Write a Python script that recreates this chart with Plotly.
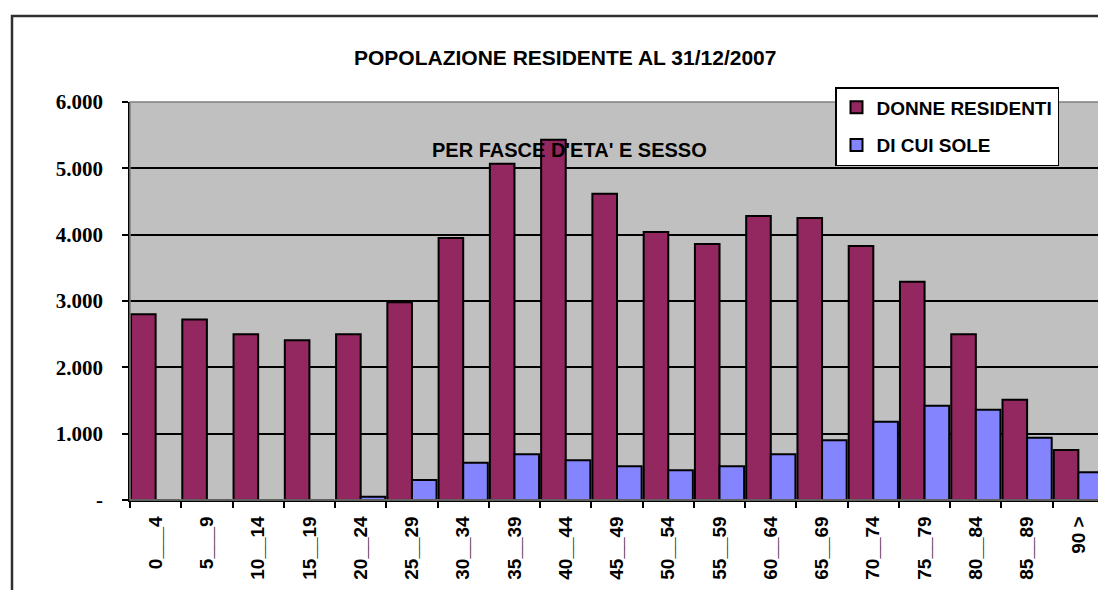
import plotly.graph_objects as go

categories = ["0___4", "5___9", "10__14", "15__19", "20__24", "25__29", "30__34",
              "35__39", "40__44", "45__49", "50__54", "55__59", "60__64", "65__69",
              "70__74", "75__79", "80__84", "85__89", "90 >"]
donne_residenti = [2800, 2720, 2500, 2410, 2500, 2980, 3950, 5070, 5430, 4615,
                   4040, 3860, 4280, 4250, 3830, 3290, 2500, 1510, 755]
di_cui_sole = [0, 0, 0, 0, 50, 300, 560, 690, 600, 510, 450, 510, 690, 900,
               1180, 1420, 1360, 940, 420]
y_ticks = [0, 1000, 2000, 3000, 4000, 5000, 6000]
y_tick_labels = ["-", "1.000", "2.000", "3.000", "4.000", "5.000", "6.000"]

SANS = "Liberation Sans, Arial, sans-serif"
SERIF = "Liberation Serif, Times New Roman, serif"

# page has an 8px body margin; work in page pixels and convert
OFF = 8
W, H = 1106 - OFF, 590 - OFF
PL, PR, PT, PB = 130 - OFF, 1104 - OFF, 102 - OFF, 500 - OFF
PW, PH = PR - PL, PB - PT


def px(xp):
    return (xp - OFF - PL) / PW


def py(yp):
    return (PB - (yp - OFF)) / PH


fig = go.Figure()
fig.add_trace(go.Bar(x=categories, y=donne_residenti, name="<b>DONNE RESIDENTI</b>",
                     legendgroup="a",
                     marker=dict(color="#93275F", line=dict(color="black", width=2))))
fig.add_trace(go.Bar(x=categories, y=di_cui_sole, name="<b>DI CUI SOLE</b>",
                     legendgroup="b",
                     marker=dict(color="#8484FF", line=dict(color="black", width=2))))

fig.update_layout(
    width=W, height=H,
    margin=dict(l=PL, r=W - PR, t=PT, b=H - PB),
    paper_bgcolor="white",
    plot_bgcolor="#C0C0C0",
    barmode="group",
    bargap=0.04,
    bargroupgap=0.0,
    showlegend=True,
    legend=dict(
        x=px(835), y=py(87), xanchor="left", yanchor="top",
        bgcolor="white", bordercolor="black", borderwidth=1.5,
        font=dict(family=SANS, size=19, color="black"),
        traceorder="grouped",
        tracegroupgap=10,
        itemwidth=30,
    ),
    xaxis=dict(
        type="category",
        tickangle=-90,
        tickson="boundaries",
        tickvals=categories,
        ticktext=["<b>" + c + "</b>" for c in categories],
        ticks="outside", ticklen=6, tickcolor="black", tickwidth=1.5,
        showline=True, linecolor="black", linewidth=1.5,
        showgrid=False,
        tickfont=dict(family=SANS, size=19, color="black"),
        ticklabelstandoff=7,
    ),
    yaxis=dict(
        range=[0, 6000],
        tickvals=y_ticks, ticktext=["<b>" + t + "</b>" for t in y_tick_labels],
        ticks="outside", ticklen=6, tickcolor="black", tickwidth=1.5,
        showline=True, linecolor="black", linewidth=1.5,
        showgrid=True, gridcolor="black", gridwidth=1.5,
        zeroline=False,
        tickfont=dict(family=SERIF, size=21, color="black"),
        ticklabelstandoff=15,
    ),
    annotations=[
        dict(text="<b>POPOLAZIONE RESIDENTE AL 31/12/2007</b>", xref="paper", yref="paper",
             x=px(565), y=py(58), xanchor="center", yanchor="middle",
             showarrow=False, font=dict(family=SANS, size=21, color="black")),
        dict(text="<b>PER FASCE D'ETA' E SESSO</b>", xref="paper", yref="paper",
             x=px(569), y=py(150), xanchor="center", yanchor="middle",
             showarrow=False, font=dict(family=SANS, size=20, color="black")),
    ],
    shapes=[
        dict(type="rect", xref="paper", yref="paper", x0=0, x1=1, y0=0, y1=1,
             line=dict(color="#808080", width=1.5), layer="above"),
        dict(type="rect", xref="paper", yref="paper",
             x0=px(12), x1=px(1112), y0=py(600), y1=py(16),
             line=dict(color="#303030", width=2.5), layer="above"),
    ],
)

fig.write_html("out.html")
